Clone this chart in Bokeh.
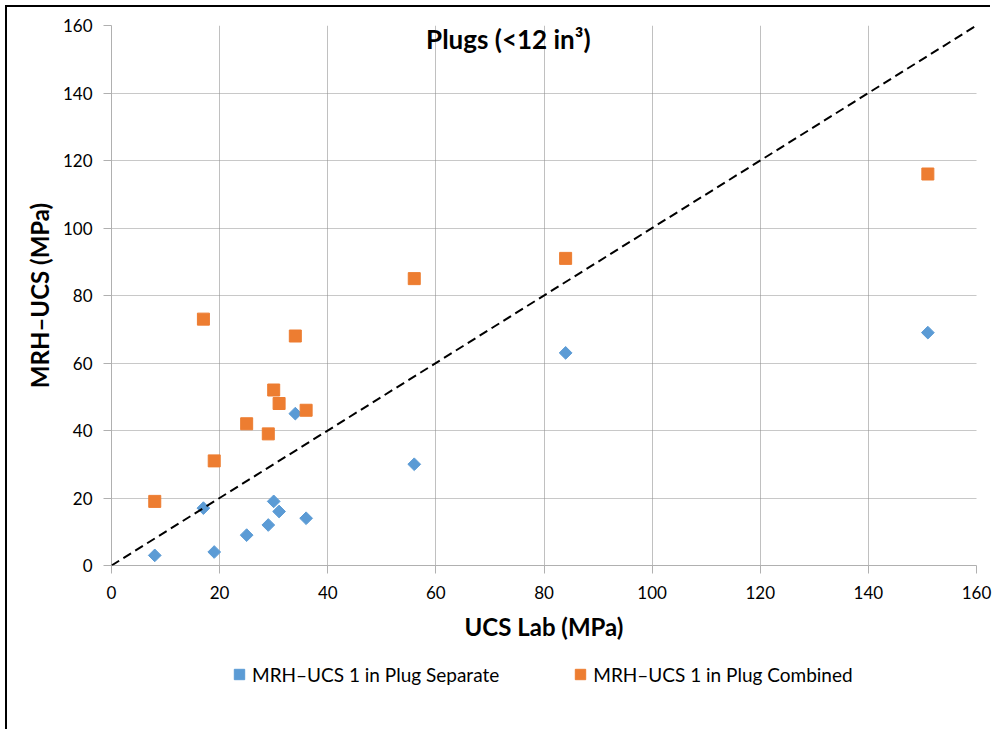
from bokeh.plotting import figure
from bokeh.layouts import column
from bokeh.models import Range1d, FixedTicker, Label, Legend, LegendItem, Slope
from bokeh.embed import file_html
from bokeh.resources import INLINE
import numpy as np

# data
ucs_lab = [8, 17, 19, 25, 29, 30, 31, 34, 36, 56, 84, 151]
mrh_separate = [3, 17, 4, 9, 12, 19, 16, 45, 14, 30, 63, 69]
mrh_combined = [19, 73, 31, 42, 39, 52, 48, 68, 46, 85, 91, 116]
ticks = [0, 20, 40, 60, 80, 100, 120, 140, 160]
label_separate = "MRH\u2013UCS 1 in Plug Separate"
label_combined = "MRH\u2013UCS 1 in Plug Combined"
title_text = "Plugs (<12 in\u00b3)"

FONT = "Lato"
BLUE = "#5B9BD5"
ORANGE = "#ED7D31"

p = figure(width=985, height=643, output_backend="svg", toolbar_location=None,
           x_range=Range1d(0, 160), y_range=Range1d(0, 160),
           min_border_left=104, min_border_right=16, min_border_top=18,
           min_border_bottom=85)
p.outline_line_color = None
p.background_fill_color = "white"
p.border_fill_color = "white"

for ax in (p.xaxis[0], p.yaxis[0]):
    ax.ticker = FixedTicker(ticks=ticks)
    ax.axis_line_color = "#b0b0b0"
    ax.major_tick_line_color = "#b0b0b0"
    ax.major_tick_out = 8
    ax.major_tick_in = 0
    ax.minor_tick_line_color = None
    ax.major_label_text_font = FONT
    ax.major_label_text_font_size = "17px"
    ax.major_label_text_color = "#000000"
    ax.axis_label_text_font = FONT
    ax.axis_label_text_font_style = "bold"
    ax.axis_label_text_font_size = "24px"
    ax.axis_label_text_color = "#000000"

p.xaxis.axis_label = "UCS Lab (MPa)"
p.yaxis.axis_label = "MRH\u2013UCS (MPa)"
p.xaxis.major_label_standoff = 12
p.yaxis.major_label_standoff = 11
p.xaxis.axis_label_standoff = 10
p.yaxis.axis_label_standoff = 6

p.xgrid.ticker = FixedTicker(ticks=ticks)
p.ygrid.ticker = FixedTicker(ticks=ticks)
p.xgrid.grid_line_color = "#c0c0c0"
p.ygrid.grid_line_color = "#909090"
p.ygrid.grid_line_dash = "1 1"

diag = Slope(gradient=1, y_intercept=0, line_color="black", line_width=2,
             line_dash="9 5")
p.add_layout(diag)

p.scatter(ucs_lab, mrh_separate, marker="square", angle=np.pi / 4,
          size=9, fill_color=BLUE, line_color=BLUE)
p.scatter(ucs_lab, mrh_combined, marker="square", size=12,
          fill_color=ORANGE, line_color=ORANGE)

title = Label(x=73.4, y=156.1, text=title_text, text_font=FONT,
              text_font_style="bold", text_font_size="26px",
              text_align="center", text_baseline="middle", text_color="black")
p.add_layout(title)

# legend strip below the chart (same series, drawn out of view so only the
# legend shows)
p2 = figure(width=985, height=81, output_backend="svg", toolbar_location=None,
            x_axis_type=None, y_axis_type=None,
            x_range=Range1d(0, 160), y_range=Range1d(1000, 1100),
            min_border_left=0, min_border_right=0, min_border_top=0,
            min_border_bottom=0)
p2.outline_line_color = None
p2.xgrid.visible = False
p2.ygrid.visible = False
r_sep = p2.scatter(ucs_lab, mrh_separate, marker="square", angle=np.pi / 4,
                   size=9, fill_color=BLUE, line_color=BLUE)
r_com = p2.scatter(ucs_lab, mrh_combined, marker="square", size=12,
                   fill_color=ORANGE, line_color=ORANGE)
legend = Legend(items=[LegendItem(label=label_separate, renderers=[r_sep]),
                       LegendItem(label=label_combined, renderers=[r_com])],
                orientation="horizontal", location=(115, 44),
                border_line_color=None, background_fill_alpha=0,
                label_text_font=FONT, label_text_font_size="19px",
                label_text_color="black", spacing=68,
                glyph_width=26, glyph_height=26, label_standoff=0)
p2.add_layout(legend, "center")

layout = column(p, p2, spacing=0,
                styles={"margin-left": "7px", "margin-top": "7px",
                        "box-shadow": "-2px -2px 0 0 black"})

open("out.html", "w").write(file_html(layout, INLINE))
